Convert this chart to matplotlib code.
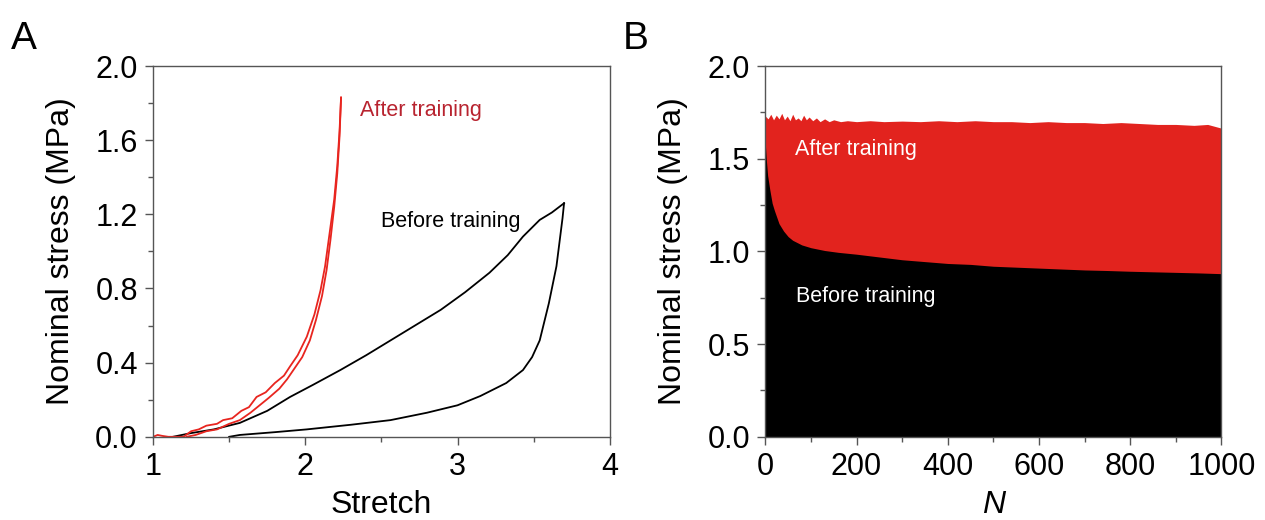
import matplotlib
matplotlib.use("Agg")
import matplotlib.pyplot as plt
from matplotlib.ticker import MultipleLocator

plt.rcParams['font.family'] = ['Liberation Sans', 'DejaVu Sans']

# Panel A: stress-stretch loops
before_load_x = [1.13, 1.25, 1.40, 1.57, 1.75, 1.90, 2.05, 2.23, 2.40, 2.56,
                 2.72, 2.89, 3.05, 3.21, 3.33, 3.43, 3.54, 3.62, 3.70]
before_load_y = [0.00, 0.02, 0.04, 0.075, 0.14, 0.215, 0.28, 0.36, 0.44, 0.52,
                 0.60, 0.685, 0.78, 0.885, 0.98, 1.08, 1.17, 1.21, 1.26]
before_unload_x = [3.70, 3.69, 3.67, 3.65, 3.62, 3.60, 3.57, 3.54, 3.49, 3.43,
                   3.32, 3.15, 3.00, 2.80, 2.56, 2.30, 2.01, 1.80, 1.57, 1.50]
before_unload_y = [1.26, 1.18, 1.05, 0.92, 0.80, 0.72, 0.62, 0.52, 0.43, 0.36,
                   0.29, 0.22, 0.17, 0.13, 0.09, 0.065, 0.04, 0.025, 0.01, 0.00]

after_load_x = [1.00, 1.03, 1.06, 1.10, 1.20, 1.25, 1.30, 1.35, 1.42, 1.46,
                1.52, 1.58, 1.63, 1.68, 1.74, 1.80, 1.86, 1.90, 1.95, 2.01,
                2.06, 2.10, 2.13, 2.16, 2.19, 2.21, 2.225, 2.235]
after_load_y = [0.00, 0.01, 0.005, 0.00, 0.00, 0.03, 0.04, 0.06, 0.07, 0.09,
                0.10, 0.14, 0.16, 0.215, 0.24, 0.29, 0.33, 0.38, 0.44, 0.54,
                0.66, 0.79, 0.92, 1.10, 1.28, 1.46, 1.65, 1.83]
after_unload_x = [2.235, 2.225, 2.21, 2.19, 2.165, 2.14, 2.11, 2.07, 2.03, 1.98,
                  1.93, 1.88, 1.83, 1.76, 1.70, 1.64, 1.57, 1.50, 1.42, 1.35,
                  1.28, 1.22]
after_unload_y = [1.83, 1.62, 1.42, 1.24, 1.06, 0.90, 0.76, 0.63, 0.52, 0.43,
                  0.37, 0.31, 0.26, 0.21, 0.17, 0.13, 0.09, 0.07, 0.04, 0.03,
                  0.01, 0.00]

# Panel B: cyclic stress envelopes
upper_N = [0, 6, 12, 18, 24, 30, 36, 42, 48, 54,
           60, 66, 72, 78, 84, 90, 96, 104, 112, 120,
           130, 140, 150, 165, 180, 200, 230, 260, 300, 340,
           380, 420, 460, 500, 540, 580, 620, 660, 700, 740,
           780, 820, 860, 900, 940, 970, 1000]
upper_val = [1.73, 1.715, 1.74, 1.71, 1.735, 1.715, 1.745, 1.71, 1.73, 1.705,
             1.74, 1.71, 1.72, 1.705, 1.735, 1.71, 1.725, 1.705, 1.72, 1.70,
             1.715, 1.70, 1.71, 1.70, 1.705, 1.70, 1.705, 1.70, 1.703, 1.70,
             1.705, 1.70, 1.705, 1.70, 1.70, 1.695, 1.70, 1.695, 1.695, 1.69,
             1.695, 1.69, 1.685, 1.685, 1.68, 1.685, 1.665]
lower_N = [0, 2, 5, 10, 15, 20, 30, 40, 50, 60, 80, 100, 130, 160, 200, 250,
           300, 350, 400, 450, 500, 550, 600, 650, 700, 750, 800, 850, 900, 950, 1000]
lower_val = [1.58, 1.50, 1.41, 1.33, 1.26, 1.22, 1.15, 1.11, 1.08, 1.06, 1.035,
             1.02, 1.005, 0.995, 0.985, 0.97, 0.955, 0.945, 0.935, 0.93, 0.92,
             0.915, 0.91, 0.905, 0.90, 0.897, 0.893, 0.89, 0.887, 0.884, 0.88]

red = "#e8251f"
fill_red = "#e2231e"
spine_col = "#555555"

fig = plt.figure(figsize=(12.65, 5.2), dpi=100)
axA = fig.add_axes([0.121, 0.160, 0.361, 0.713])
axB = fig.add_axes([0.605, 0.160, 0.3605, 0.713])

# Panel A
axA.plot(before_load_x, before_load_y, color="black", lw=1.3)
axA.plot(before_unload_x, before_unload_y, color="black", lw=1.3)
axA.plot(after_load_x, after_load_y, color=red, lw=1.3)
axA.plot(after_unload_x, after_unload_y, color=red, lw=1.3)
axA.text(2.36, 1.76, "After training", color="#b8232f", fontsize=15.5, va="center")
axA.text(2.50, 1.16, "Before training", color="black", fontsize=15.5, va="center")
axA.set_xlim(1, 4)
axA.set_ylim(0, 2.0)
axA.xaxis.set_major_locator(MultipleLocator(1))
axA.xaxis.set_minor_locator(MultipleLocator(0.5))
axA.yaxis.set_major_locator(MultipleLocator(0.4))
axA.yaxis.set_minor_locator(MultipleLocator(0.2))
axA.set_yticklabels([f"{v:.1f}" for v in axA.get_yticks()])
axA.set_xlabel("Stretch", fontsize=23, labelpad=6)
axA.set_ylabel("Nominal stress (MPa)", fontsize=23, labelpad=14)

# Panel B
axB.fill_between(upper_N, 0, upper_val, color=fill_red, lw=0)
axB.fill_between(lower_N, 0, lower_val, color="black", lw=0)
axB.text(66, 1.55, "After training", color="white", fontsize=15.5, va="center")
axB.text(68, 0.755, "Before training", color="white", fontsize=15.5, va="center")
axB.set_xlim(0, 1000)
axB.set_ylim(0, 2.0)
axB.xaxis.set_major_locator(MultipleLocator(200))
axB.xaxis.set_minor_locator(MultipleLocator(100))
axB.yaxis.set_major_locator(MultipleLocator(0.5))
axB.yaxis.set_minor_locator(MultipleLocator(0.25))
axB.set_yticklabels([f"{v:.1f}" for v in axB.get_yticks()])
axB.set_xlabel("N", fontsize=23, style="italic", labelpad=6)
axB.set_ylabel("Nominal stress (MPa)", fontsize=23, labelpad=14)

for ax in (axA, axB):
    for s in ax.spines.values():
        s.set_color(spine_col)
        s.set_linewidth(1.0)
    ax.tick_params(which="major", direction="out", length=6, width=1.0,
                   color=spine_col, labelsize=22, pad=5)
    ax.tick_params(which="minor", direction="out", length=3.5, width=1.0,
                   color=spine_col)

fig.text(0.009, 0.905, "A", fontsize=28)
fig.text(0.492, 0.905, "B", fontsize=28)

fig.savefig("out.png", dpi=100)
